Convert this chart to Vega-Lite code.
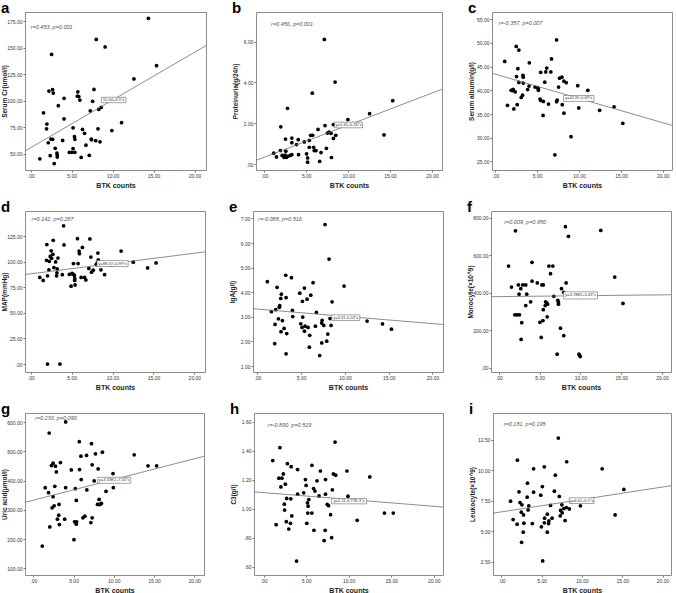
{
"$schema": "https://vega.github.io/schema/vega-lite/v6.json",
"padding": {"left": 0, "top": 0, "right": 0, "bottom": 0},
"spacing": 10,
"config": {
 "font": "Liberation Sans",
 "view": {"stroke": "#8c8c8c", "strokeWidth": 1},
 "axis": {"domain": false, "grid": false, "labelFontSize": 5, "labelColor": "#333", "tickColor": "#777", "tickSize": 2, "labelPadding": 1, "titleFontSize": 6.5, "titleFontWeight": "bold", "titleColor": "#222", "labelFlush": false, "labelOverlap": false, "labelExpr": "abs(datum.value) < 1 ? replace(format(datum.value, '.2f'), '0.', '.') : format(datum.value, '.2f')"},
 "axisY": {"minExtent": 16, "maxExtent": 16, "titlePadding": 2},
 "axisX": {"titlePadding": 3, "titleFontSize": 7},
 "title": {"anchor": "start", "frame": "bounds", "fontSize": 15, "fontWeight": "bold", "font": "Liberation Sans", "offset": -4, "color": "black"},
 "point": {"filled": true, "size": 14, "color": "black", "opacity": 1},
 "line": {"color": "#707070", "strokeWidth": 0.8, "clip": true},
 "rect": {"fill": "white", "stroke": "#666", "strokeWidth": 0.6}
},
"vconcat": [
{"spacing": 22, "hconcat": [
 {"width": 181, "height": 158, "title": "a",
  "encoding": {"x": {"field": "x", "type": "quantitative", "scale": {"domain": [-0.7, 21.4], "nice": false, "zero": false}, "axis": {"values": [0,5,10,15,20], "title": "BTK counts"}},
               "y": {"field": "y", "type": "quantitative", "scale": {"domain": [34.6, 183.6], "nice": false, "zero": false}, "axis": {"values": [50,75,100,125,150,175], "title": "Serum Cr(umol/l)"}}},
  "layer": [
   {"data": {"values": [{"x":14.37,"y":177.6},{"x":8.0,"y":157.7},{"x":9.08,"y":150.6},{"x":2.55,"y":143.6},{"x":15.36,"y":133.0},{"x":12.6,"y":120.5},{"x":2.22,"y":109.0},{"x":2.67,"y":110.3},{"x":2.75,"y":107.1},{"x":5.75,"y":108.3},{"x":7.72,"y":110.6},{"x":5.7,"y":104.2},{"x":5.87,"y":103.8},{"x":6.0,"y":100.6},{"x":4.07,"y":102.2},{"x":7.56,"y":99.4},{"x":3.37,"y":95.2},{"x":1.56,"y":88.5},{"x":7.27,"y":90.4},{"x":8.3,"y":91.7},{"x":8.6,"y":93.6},{"x":4.07,"y":82.7},{"x":1.97,"y":77.9},{"x":1.93,"y":73.4},{"x":11.09,"y":79.2},{"x":5.17,"y":74.4},{"x":6.32,"y":72.8},{"x":6.57,"y":69.2},{"x":8.21,"y":73.4},{"x":9.9,"y":71.8},{"x":5.34,"y":66.0},{"x":5.39,"y":63.5},{"x":2.46,"y":63.8},{"x":2.67,"y":63.5},{"x":3.9,"y":62.5},{"x":7.39,"y":63.8},{"x":7.43,"y":63.1},{"x":7.93,"y":62.2},{"x":8.46,"y":61.2},{"x":2.14,"y":60.3},{"x":6.74,"y":58.0},{"x":3.0,"y":55.1},{"x":5.17,"y":54.8},{"x":3.2,"y":50.6},{"x":3.24,"y":48.7},{"x":3.24,"y":46.8},{"x":2.38,"y":48.1},{"x":4.72,"y":51.3},{"x":5.01,"y":51.3},{"x":5.38,"y":51.3},{"x":6.16,"y":46.5},{"x":7.15,"y":48.4},{"x":1.11,"y":45.2},{"x":2.87,"y":40.7}]}, "mark": "point"},
   {"data": {"values": [{"x":-0.7,"y":52.5},{"x":21.4,"y":151.9}]}, "mark": "line"},
   {"data": {"values": [{"x":8.62,"x2":11.62,"y":103.2,"y2":98.1}]}, "mark": "rect", "encoding": {"x2": {"field": "x2"}, "y2": {"field": "y2"}}},
   {"data": {"values": [{"x":10.12,"y":100.65,"t":"55.64+4.5*x"}]}, "mark": {"type": "text", "fontSize": 4, "color": "#333"}, "encoding": {"text": {"field": "t"}}},
   {"data": {"values": [{"x":0,"y":169.9,"t":"r=0.453, p=0.001"}]}, "mark": {"type": "text", "align": "left", "fontSize": 5.5, "fontStyle": "italic", "color": "#555"}, "encoding": {"text": {"field": "t"}}}
  ]},
 {"width": 186, "height": 158, "title": "b",
  "encoding": {"x": {"field": "x", "type": "quantitative", "scale": {"domain": [-1.0, 21.2], "nice": false, "zero": false}, "axis": {"values": [0,5,10,15,20], "title": "BTK counts"}},
               "y": {"field": "y", "type": "quantitative", "scale": {"domain": [-0.27, 7.44], "nice": false, "zero": false}, "axis": {"values": [0,2,4,6], "title": "Proteinuria(g/24h)"}}},
  "layer": [
   {"data": {"values": [{"x":7.16,"y":6.10},{"x":8.44,"y":4.02},{"x":5.72,"y":3.48},{"x":15.32,"y":3.11},{"x":2.76,"y":2.74},{"x":12.56,"y":2.48},{"x":9.96,"y":2.19},{"x":7.24,"y":1.90},{"x":8.24,"y":1.95},{"x":1.96,"y":1.84},{"x":6.4,"y":1.71},{"x":7.72,"y":1.58},{"x":7.52,"y":1.53},{"x":7.96,"y":1.52},{"x":8.52,"y":1.42},{"x":14.28,"y":1.44},{"x":5.52,"y":1.42},{"x":5.76,"y":1.42},{"x":3.28,"y":1.29},{"x":8.24,"y":1.27},{"x":2.52,"y":1.24},{"x":4.04,"y":1.21},{"x":5.36,"y":1.18},{"x":3.28,"y":1.06},{"x":4.76,"y":1.10},{"x":3.84,"y":0.97},{"x":5.36,"y":0.84},{"x":5.88,"y":0.84},{"x":7.4,"y":0.79},{"x":5.96,"y":0.68},{"x":6.16,"y":0.68},{"x":1.92,"y":0.68},{"x":2.56,"y":0.65},{"x":5.04,"y":0.52},{"x":6.76,"y":0.58},{"x":1.12,"y":0.55},{"x":4.08,"y":0.48},{"x":3.28,"y":0.48},{"x":3.08,"y":0.44},{"x":2.8,"y":0.40},{"x":2.48,"y":0.45},{"x":2.32,"y":0.40},{"x":2.12,"y":0.44},{"x":2.64,"y":0.35},{"x":1.44,"y":0.37},{"x":2.36,"y":0.34},{"x":5.16,"y":0.32},{"x":8.0,"y":0.34},{"x":5.16,"y":0.11},{"x":6.6,"y":0.15}]}, "mark": "point"},
   {"data": {"values": [{"x":-1.0,"y":0.2},{"x":21.2,"y":3.67}]}, "mark": "line"},
   {"data": {"values": [{"x":8.36,"x2":11.72,"y":2.065,"y2":1.79}]}, "mark": "rect", "encoding": {"x2": {"field": "x2"}, "y2": {"field": "y2"}}},
   {"data": {"values": [{"x":10.04,"y":1.93,"t":"y=0.35+0.16*x"}]}, "mark": {"type": "text", "fontSize": 4, "color": "#333"}, "encoding": {"text": {"field": "t"}}},
   {"data": {"values": [{"x":0.8,"y":6.87,"t":"r=0.456, p=0.001"}]}, "mark": {"type": "text", "align": "left", "fontSize": 5.5, "fontStyle": "italic", "color": "#555"}, "encoding": {"text": {"field": "t"}}}
  ]},
 {"width": 180, "height": 158, "title": "c",
  "encoding": {"x": {"field": "x", "type": "quantitative", "scale": {"domain": [-0.4, 21.1], "nice": false, "zero": false}, "axis": {"values": [0,5,10,15,20], "title": "BTK counts"}},
               "y": {"field": "y", "type": "quantitative", "scale": {"domain": [23.2, 56.5], "nice": false, "zero": false}, "axis": {"values": [25,30,35,40,45,50,55], "title": "Serum albumin(g/l)"}}},
  "layer": [
   {"data": {"values": [{"x":7.31,"y":50.62},{"x":2.49,"y":49.24},{"x":2.81,"y":48.48},{"x":1.12,"y":46.07},{"x":6.71,"y":46.62},{"x":4.06,"y":45.79},{"x":2.69,"y":44.55},{"x":6.14,"y":44.69},{"x":6.02,"y":43.86},{"x":5.42,"y":43.79},{"x":6.63,"y":43.86},{"x":3.29,"y":43.17},{"x":3.33,"y":42.76},{"x":2.53,"y":42.90},{"x":7.95,"y":42.76},{"x":7.67,"y":42.55},{"x":8.19,"y":41.93},{"x":8.47,"y":41.59},{"x":2.81,"y":41.66},{"x":3.33,"y":41.52},{"x":5.9,"y":41.72},{"x":9.84,"y":40.97},{"x":4.02,"y":40.90},{"x":4.74,"y":40.69},{"x":5.06,"y":40.55},{"x":5.14,"y":40.28},{"x":5.14,"y":40.0},{"x":3.86,"y":40.14},{"x":2.13,"y":40.21},{"x":1.89,"y":40.0},{"x":2.05,"y":39.93},{"x":2.37,"y":39.66},{"x":7.55,"y":40.69},{"x":11.04,"y":40.0},{"x":3.25,"y":38.97},{"x":3.09,"y":38.48},{"x":5.34,"y":38.14},{"x":5.42,"y":37.86},{"x":7.39,"y":37.93},{"x":7.31,"y":37.59},{"x":5.74,"y":37.66},{"x":7.99,"y":36.97},{"x":6.35,"y":37.10},{"x":1.45,"y":36.83},{"x":2.61,"y":36.97},{"x":9.96,"y":36.28},{"x":2.21,"y":36.07},{"x":14.18,"y":36.48},{"x":12.45,"y":35.79},{"x":8.19,"y":35.17},{"x":5.7,"y":34.69},{"x":15.22,"y":33.03},{"x":9.04,"y":30.21},{"x":7.11,"y":26.41}]}, "mark": "point"},
   {"data": {"values": [{"x":-0.4,"y":43.6},{"x":21.1,"y":32.6}]}, "mark": "line"},
   {"data": {"values": [{"x":8.15,"x2":11.77,"y":38.9,"y2":37.66}]}, "mark": "rect", "encoding": {"x2": {"field": "x2"}, "y2": {"field": "y2"}}},
   {"data": {"values": [{"x":9.96,"y":38.28,"t":"y=42.95-0.49*x"}]}, "mark": {"type": "text", "fontSize": 4, "color": "#333"}, "encoding": {"text": {"field": "t"}}},
   {"data": {"values": [{"x":0.4,"y":54.2,"t":"r=-0.357, p=0.007"}]}, "mark": {"type": "text", "align": "left", "fontSize": 5.5, "fontStyle": "italic", "color": "#555"}, "encoding": {"text": {"field": "t"}}}
  ]}
]},
{"spacing": 20, "hconcat": [
 {"width": 180, "height": 161, "title": "d",
  "encoding": {"x": {"field": "x", "type": "quantitative", "scale": {"domain": [-0.7, 21.3], "nice": false, "zero": false}, "axis": {"values": [0,5,10,15,20], "title": "BTK counts"}},
               "y": {"field": "y", "type": "quantitative", "scale": {"domain": [-7.7, 149.4], "nice": false, "zero": false}, "axis": {"values": [0,25,50,75,100,125], "title": "MAP(mmHg)"}}},
  "layer": [
   {"data": {"values": [{"x":4.02,"y":134.9},{"x":1.97,"y":116.7},{"x":4.07,"y":116.3},{"x":2.75,"y":120.8},{"x":5.71,"y":122.4},{"x":7.23,"y":122.1},{"x":6.32,"y":113.8},{"x":2.5,"y":110.6},{"x":5.91,"y":110.3},{"x":5.95,"y":107.7},{"x":11.05,"y":110.3},{"x":8.21,"y":108.3},{"x":2.71,"y":107.1},{"x":2.38,"y":105.1},{"x":2.55,"y":103.2},{"x":3.33,"y":103.5},{"x":7.35,"y":104.5},{"x":2.26,"y":100.3},{"x":3.04,"y":99.7},{"x":1.93,"y":101.3},{"x":8.25,"y":101.6},{"x":8.13,"y":98.7},{"x":8.0,"y":97.1},{"x":5.22,"y":98.1},{"x":5.79,"y":98.1},{"x":12.53,"y":99.4},{"x":15.32,"y":98.7},{"x":9.9,"y":96.5},{"x":2.83,"y":94.2},{"x":3.24,"y":92.9},{"x":2.22,"y":92.0},{"x":7.1,"y":93.3},{"x":14.29,"y":93.9},{"x":8.58,"y":92.0},{"x":7.64,"y":91.7},{"x":7.43,"y":89.7},{"x":3.2,"y":89.1},{"x":5.05,"y":88.5},{"x":5.17,"y":87.8},{"x":4.72,"y":87.5},{"x":3.86,"y":87.2},{"x":5.34,"y":86.5},{"x":9.03,"y":87.2},{"x":3.16,"y":86.2},{"x":2.05,"y":86.2},{"x":1.11,"y":84.6},{"x":6.16,"y":84.6},{"x":6.57,"y":84.6},{"x":5.38,"y":83.3},{"x":1.52,"y":81.7},{"x":6.74,"y":82.1},{"x":5.38,"y":81.7},{"x":5.42,"y":77.2},{"x":4.93,"y":76.0},{"x":2.05,"y":0},{"x":3.57,"y":0}]}, "mark": "point"},
   {"data": {"values": [{"x":-0.7,"y":87.4},{"x":21.3,"y":109.5}]}, "mark": "line"},
   {"data": {"values": [{"x":8.1,"x2":11.9,"y":101.0,"y2":95.2}]}, "mark": "rect", "encoding": {"x2": {"field": "x2"}, "y2": {"field": "y2"}}},
   {"data": {"values": [{"x":10.0,"y":98.1,"t":"y=88.07+0.99*x"}]}, "mark": {"type": "text", "fontSize": 4, "color": "#333"}, "encoding": {"text": {"field": "t"}}},
   {"data": {"values": [{"x":0.1,"y":142,"t":"r=0.142, p=0.287"}]}, "mark": {"type": "text", "align": "left", "fontSize": 5.5, "fontStyle": "italic", "color": "#555"}, "encoding": {"text": {"field": "t"}}}
  ]},
 {"width": 190, "height": 161, "title": "e",
  "encoding": {"x": {"field": "x", "type": "quantitative", "scale": {"domain": [-0.5, 21.2], "nice": false, "zero": false}, "axis": {"values": [0,5,10,15,20], "title": "BTK counts"}},
               "y": {"field": "y", "type": "quantitative", "scale": {"domain": [0.76, 7.3], "nice": false, "zero": false}, "axis": {"values": [1,2,3,4,5,6,7], "title": "IgA(g/l)"}}},
  "layer": [
   {"data": {"values": [{"x":7.73,"y":6.75},{"x":8.19,"y":5.35},{"x":3.24,"y":4.69},{"x":3.89,"y":4.59},{"x":1.14,"y":4.43},{"x":6.36,"y":4.39},{"x":9.9,"y":4.25},{"x":2.25,"y":4.20},{"x":5.37,"y":4.17},{"x":4.84,"y":3.96},{"x":2.74,"y":3.92},{"x":6.1,"y":3.88},{"x":3.28,"y":3.78},{"x":2.67,"y":3.75},{"x":5.68,"y":3.72},{"x":2.55,"y":3.46},{"x":2.51,"y":3.39},{"x":5.14,"y":3.63},{"x":8.53,"y":3.61},{"x":4.0,"y":3.26},{"x":2.1,"y":3.29},{"x":1.6,"y":3.21},{"x":6.74,"y":3.18},{"x":4.04,"y":3.01},{"x":5.18,"y":2.99},{"x":8.3,"y":2.93},{"x":2.4,"y":2.92},{"x":7.39,"y":2.86},{"x":2.86,"y":2.85},{"x":12.53,"y":2.83},{"x":7.35,"y":2.75},{"x":4.95,"y":2.72},{"x":2.02,"y":2.69},{"x":14.29,"y":2.71},{"x":7.58,"y":2.65},{"x":8.42,"y":2.65},{"x":5.45,"y":2.62},{"x":5.79,"y":2.57},{"x":5.1,"y":2.57},{"x":6.63,"y":2.62},{"x":3.05,"y":2.53},{"x":15.31,"y":2.50},{"x":5.37,"y":2.42},{"x":2.7,"y":2.40},{"x":3.35,"y":2.32},{"x":8.04,"y":2.30},{"x":5.98,"y":2.25},{"x":7.92,"y":2.01},{"x":7.35,"y":1.94},{"x":1.98,"y":1.91},{"x":5.94,"y":1.77},{"x":3.28,"y":1.50},{"x":7.12,"y":1.43}]}, "mark": "point"},
   {"data": {"values": [{"x":-0.5,"y":3.33},{"x":21.2,"y":2.69}]}, "mark": "line"},
   {"data": {"values": [{"x":8.5,"x2":11.7,"y":3.08,"y2":2.85}]}, "mark": "rect", "encoding": {"x2": {"field": "x2"}, "y2": {"field": "y2"}}},
   {"data": {"values": [{"x":10.1,"y":2.965,"t":"y=3.31-0.03*x"}]}, "mark": {"type": "text", "fontSize": 4, "color": "#333"}, "encoding": {"text": {"field": "t"}}},
   {"data": {"values": [{"x":0.08,"y":6.98,"t":"r=-0.088, p=0.516"}]}, "mark": {"type": "text", "align": "left", "fontSize": 5.5, "fontStyle": "italic", "color": "#555"}, "encoding": {"text": {"field": "t"}}}
  ]},
 {"width": 180, "height": 161, "title": "f",
  "encoding": {"x": {"field": "x", "type": "quantitative", "scale": {"domain": [-0.97, 21.1], "nice": false, "zero": false}, "axis": {"values": [0,5,10,15,20], "title": "BTK counts"}},
               "y": {"field": "y", "type": "quantitative", "scale": {"domain": [-23.8, 836.6], "nice": false, "zero": false}, "axis": {"values": [0,200,400,600,800], "title": "Monocyte(×10^9)"}}},
  "layer": [
   {"data": {"values": [{"x":8.15,"y":752.7},{"x":2.03,"y":730.8},{"x":12.49,"y":732.6},{"x":8.52,"y":701.5},{"x":4.06,"y":562.3},{"x":1.18,"y":542.1},{"x":6.13,"y":542.1},{"x":6.61,"y":542.1},{"x":6.33,"y":501.8},{"x":14.2,"y":483.5},{"x":4.06,"y":461.5},{"x":4.71,"y":452.4},{"x":8.24,"y":452.4},{"x":2.39,"y":441.4},{"x":2.92,"y":441.4},{"x":3.29,"y":441.4},{"x":5.27,"y":441.4},{"x":5.44,"y":441.4},{"x":1.54,"y":430.4},{"x":2.68,"y":421.2},{"x":7.67,"y":421.2},{"x":2.47,"y":391.9},{"x":3.41,"y":391.9},{"x":7.95,"y":401.1},{"x":6.73,"y":381.0},{"x":7.22,"y":359.0},{"x":7.3,"y":348.0},{"x":7.3,"y":338.8},{"x":3.89,"y":351.6},{"x":5.72,"y":351.6},{"x":5.88,"y":344.3},{"x":5.96,"y":338.8},{"x":15.21,"y":342.5},{"x":5.68,"y":331.5},{"x":3.29,"y":331.5},{"x":5.44,"y":309.5},{"x":5.92,"y":271.1},{"x":1.95,"y":282.1},{"x":2.23,"y":282.1},{"x":2.52,"y":282.1},{"x":5.4,"y":250.9},{"x":2.8,"y":239.9},{"x":5.03,"y":241.8},{"x":7.55,"y":210.6},{"x":5.19,"y":161.2},{"x":7.95,"y":170.3},{"x":2.72,"y":150.2},{"x":7.14,"y":71.4},{"x":9.82,"y":71.4},{"x":9.9,"y":64.1},{"x":9.98,"y":58.6}]}, "mark": "point"},
   {"data": {"values": [{"x":-0.97,"y":378.5},{"x":21.1,"y":389}]}, "mark": "line"},
   {"data": {"values": [{"x":7.95,"x2":12.09,"y":404.8,"y2":366.3}]}, "mark": "rect", "encoding": {"x2": {"field": "x2"}, "y2": {"field": "y2"}}},
   {"data": {"values": [{"x":10.02,"y":385.5,"t":"y=3.78E2+0.43*x"}]}, "mark": {"type": "text", "fontSize": 4, "color": "#333"}, "encoding": {"text": {"field": "t"}}},
   {"data": {"values": [{"x":0.65,"y":778,"t":"r=0.009, p=0.950"}]}, "mark": {"type": "text", "align": "left", "fontSize": 5.5, "fontStyle": "italic", "color": "#555"}, "encoding": {"text": {"field": "t"}}}
  ]}
]},
{"spacing": 22, "hconcat": [
 {"width": 179, "height": 162, "title": "g",
  "encoding": {"x": {"field": "x", "type": "quantitative", "scale": {"domain": [-1.03, 21.2], "nice": false, "zero": false}, "axis": {"values": [0,5,10,15,20], "title": "BTK counts"}},
               "y": {"field": "y", "type": "quantitative", "scale": {"domain": [77, 631], "nice": false, "zero": false}, "axis": {"values": [100,200,300,400,500,600], "title": "Uric acid(μmol/l)"}}},
  "layer": [
   {"data": {"values": [{"x":4.02,"y":600.5},{"x":1.97,"y":562.6},{"x":5.71,"y":532.8},{"x":7.23,"y":525.9},{"x":7.72,"y":491.5},{"x":8.58,"y":497.2},{"x":5.91,"y":483.5},{"x":6.61,"y":485.8},{"x":12.53,"y":488.1},{"x":2.46,"y":459.4},{"x":3.37,"y":461.7},{"x":2.26,"y":451.4},{"x":2.75,"y":449.1},{"x":7.31,"y":453.7},{"x":14.25,"y":450.2},{"x":15.32,"y":450.2},{"x":4.72,"y":436.5},{"x":5.75,"y":437.6},{"x":8.05,"y":439.9},{"x":2.87,"y":429.6},{"x":9.9,"y":423.9},{"x":5.95,"y":403.2},{"x":7.56,"y":398.6},{"x":1.48,"y":375.7},{"x":2.67,"y":380.3},{"x":4.02,"y":375.7},{"x":5.22,"y":372.2},{"x":9.94,"y":375.7},{"x":6.65,"y":367.7},{"x":1.89,"y":358.5},{"x":9.03,"y":363.1},{"x":2.46,"y":344.7},{"x":8.17,"y":335.6},{"x":5.34,"y":332.1},{"x":8.46,"y":321.8},{"x":8.13,"y":318.3},{"x":7.97,"y":318.3},{"x":8.29,"y":318.3},{"x":3.2,"y":318.3},{"x":2.59,"y":313.8},{"x":2.34,"y":306.9},{"x":3.16,"y":281.7},{"x":3.0,"y":267.9},{"x":3.9,"y":267.9},{"x":6.41,"y":278.2},{"x":6.16,"y":272.5},{"x":7.31,"y":272.5},{"x":5.13,"y":258.7},{"x":5.38,"y":258.7},{"x":5.34,"y":250.7},{"x":7.15,"y":256.4},{"x":3.24,"y":249.5},{"x":2.05,"y":241.5},{"x":5.05,"y":197.9},{"x":1.11,"y":176.1}]}, "mark": "point"},
   {"data": {"values": [{"x":-1.03,"y":325.5},{"x":21.2,"y":483}]}, "mark": "line"},
   {"data": {"values": [{"x":8.0,"x2":12.1,"y":411,"y2":390.6}]}, "mark": "rect", "encoding": {"x2": {"field": "x2"}, "y2": {"field": "y2"}}},
   {"data": {"values": [{"x":10.05,"y":400.8,"t":"y=3.33E2+7.05*x"}]}, "mark": {"type": "text", "fontSize": 4, "color": "#333"}, "encoding": {"text": {"field": "t"}}},
   {"data": {"values": [{"x":0.2,"y":614,"t":"r=0.230, p=0.090"}]}, "mark": {"type": "text", "align": "left", "fontSize": 5.5, "fontStyle": "italic", "color": "#555"}, "encoding": {"text": {"field": "t"}}}
  ]},
 {"width": 189, "height": 162, "title": "h",
  "encoding": {"x": {"field": "x", "type": "quantitative", "scale": {"domain": [-1.12, 21.08], "nice": false, "zero": false}, "axis": {"values": [0,5,10,15,20], "title": "BTK counts"}},
               "y": {"field": "y", "type": "quantitative", "scale": {"domain": [0.542, 1.662], "nice": false, "zero": false}, "axis": {"values": [0.6,0.8,1.0,1.2,1.4,1.6], "title": "C3(g/l)"}}},
  "layer": [
   {"data": {"values": [{"x":8.4,"y":1.461},{"x":1.92,"y":1.422},{"x":1.08,"y":1.333},{"x":2.8,"y":1.312},{"x":5.68,"y":1.300},{"x":3.24,"y":1.291},{"x":4.0,"y":1.271},{"x":6.68,"y":1.261},{"x":9.8,"y":1.261},{"x":2.32,"y":1.241},{"x":8.2,"y":1.241},{"x":8.48,"y":1.232},{"x":12.48,"y":1.220},{"x":1.8,"y":1.211},{"x":2.16,"y":1.211},{"x":4.92,"y":1.202},{"x":7.28,"y":1.202},{"x":6.28,"y":1.193},{"x":2.56,"y":1.170},{"x":5.0,"y":1.161},{"x":2.04,"y":1.151},{"x":5.88,"y":1.140},{"x":6.04,"y":1.122},{"x":4.72,"y":1.110},{"x":8.08,"y":1.131},{"x":4.0,"y":1.101},{"x":7.28,"y":1.101},{"x":6.52,"y":1.089},{"x":9.92,"y":1.087},{"x":2.72,"y":1.071},{"x":3.2,"y":1.069},{"x":5.32,"y":1.064},{"x":5.16,"y":1.041},{"x":2.44,"y":1.032},{"x":7.48,"y":1.030},{"x":7.64,"y":1.021},{"x":5.24,"y":1.018},{"x":2.48,"y":0.991},{"x":5.2,"y":0.970},{"x":5.68,"y":0.970},{"x":14.2,"y":0.970},{"x":15.24,"y":0.970},{"x":7.88,"y":0.959},{"x":3.32,"y":0.950},{"x":1.48,"y":0.890},{"x":2.68,"y":0.911},{"x":3.16,"y":0.899},{"x":5.08,"y":0.899},{"x":11.0,"y":0.920},{"x":2.96,"y":0.860},{"x":5.92,"y":0.851},{"x":7.24,"y":0.851},{"x":8.0,"y":0.800},{"x":7.12,"y":0.780},{"x":3.88,"y":0.638}]}, "mark": "point"},
   {"data": {"values": [{"x":-1.12,"y":1.117},{"x":21.08,"y":1.012}]}, "mark": "line"},
   {"data": {"values": [{"x":8.0,"x2":12.1,"y":1.071,"y2":1.034}]}, "mark": "rect", "encoding": {"x2": {"field": "x2"}, "y2": {"field": "y2"}}},
   {"data": {"values": [{"x":10.05,"y":1.0525,"t":"y=1.11-4.77E-3*x"}]}, "mark": {"type": "text", "fontSize": 4, "color": "#333"}, "encoding": {"text": {"field": "t"}}},
   {"data": {"values": [{"x":0.48,"y":1.576,"t":"r=-0.890, p=0.519"}]}, "mark": {"type": "text", "align": "left", "fontSize": 5.5, "fontStyle": "italic", "color": "#555"}, "encoding": {"text": {"field": "t"}}}
  ]},
 {"width": 178, "height": 162, "title": "i",
  "encoding": {"x": {"field": "x", "type": "quantitative", "scale": {"domain": [-1.05, 21.05], "nice": false, "zero": false}, "axis": {"values": [0,5,10,15,20], "title": "BTK counts"}},
               "y": {"field": "y", "type": "quantitative", "scale": {"domain": [1.43, 14.69], "nice": false, "zero": false}, "axis": {"values": [2.5,5,7.5,10,12.5], "title": "Leukocyte(×10^9)"}}},
  "layer": [
   {"data": {"values": [{"x":7.06,"y":12.64},{"x":1.98,"y":10.83},{"x":8.1,"y":10.70},{"x":12.5,"y":10.12},{"x":3.99,"y":10.12},{"x":5.32,"y":10.29},{"x":6.69,"y":9.60},{"x":3.23,"y":8.95},{"x":5.08,"y":8.67},{"x":15.2,"y":8.43},{"x":2.18,"y":8.24},{"x":3.99,"y":8.21},{"x":6.57,"y":8.29},{"x":4.88,"y":7.96},{"x":3.19,"y":7.80},{"x":7.18,"y":7.86},{"x":1.13,"y":7.47},{"x":2.3,"y":7.36},{"x":2.54,"y":7.17},{"x":3.39,"y":7.09},{"x":6.09,"y":7.12},{"x":7.5,"y":7.17},{"x":3.31,"y":6.76},{"x":2.46,"y":6.57},{"x":8.06,"y":6.95},{"x":7.74,"y":6.87},{"x":8.43,"y":6.84},{"x":9.8,"y":7.09},{"x":1.45,"y":5.97},{"x":7.34,"y":6.71},{"x":7.54,"y":6.52},{"x":2.74,"y":6.35},{"x":5.69,"y":6.41},{"x":6.29,"y":6.08},{"x":14.11,"y":6.35},{"x":7.3,"y":6.27},{"x":5.36,"y":6.08},{"x":7.9,"y":5.89},{"x":5.89,"y":5.86},{"x":5.85,"y":5.64},{"x":1.94,"y":5.59},{"x":2.78,"y":5.67},{"x":3.83,"y":5.64},{"x":5.32,"y":5.70},{"x":4.96,"y":5.37},{"x":2.7,"y":4.93},{"x":5.69,"y":4.93},{"x":2.5,"y":4.11},{"x":5.12,"y":2.58}]}, "mark": "point"},
   {"data": {"values": [{"x":-1.05,"y":6.49},{"x":21.05,"y":8.74}]}, "mark": "line"},
   {"data": {"values": [{"x":8.43,"x2":11.49,"y":7.75,"y2":7.28}]}, "mark": "rect", "encoding": {"x2": {"field": "x2"}, "y2": {"field": "y2"}}},
   {"data": {"values": [{"x":9.96,"y":7.5,"t":"y=6.61+0.1*x"}]}, "mark": {"type": "text", "fontSize": 4, "color": "#333"}, "encoding": {"text": {"field": "t"}}},
   {"data": {"values": [{"x":0.28,"y":13.78,"t":"r=0.181, p=0.195"}]}, "mark": {"type": "text", "align": "left", "fontSize": 5.5, "fontStyle": "italic", "color": "#555"}, "encoding": {"text": {"field": "t"}}}
  ]}
]}
]
}
